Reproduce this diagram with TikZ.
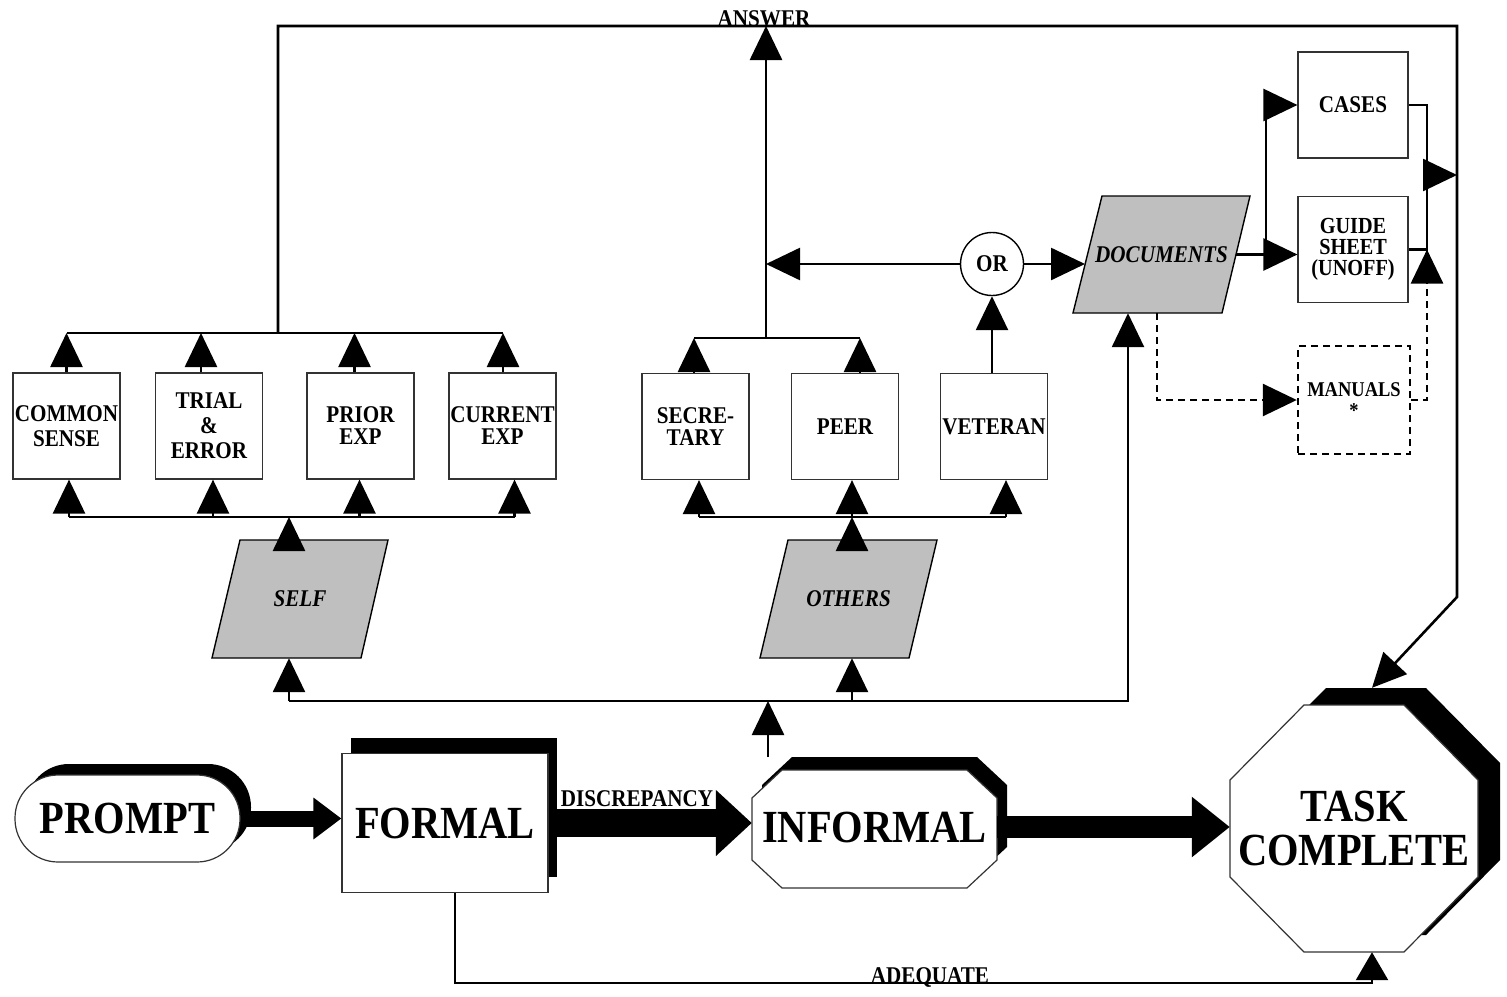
\documentclass[tikz,border=0pt]{standalone}
\usepackage{fontspec}
\setmainfont{Liberation Serif}[FakeStretch=0.88]
\usetikzlibrary{arrows.meta,shadows}
\newcommand\smallbf{\fontsize{24}{22}\selectfont\bfseries}
\newcommand\bigbf{\fontsize{46}{44}\selectfont\bfseries}
\tikzset{
  ln/.style={line width=2.6pt},
  arr/.style={line width=2.6pt, -{Triangle[length=34pt,width=32pt]}},
  dln/.style={line width=2.6pt, dash pattern=on 7pt off 5pt},
  darr/.style={dln, -{Triangle[length=34pt,width=32pt]}},
  box/.style={draw=black!80, line width=1.2pt, fill=white, minimum width=107pt,
    minimum height=106pt, inner sep=0pt, align=center, font=\smallbf},
  txt/.style={inner sep=0pt, align=center},
  lab/.style={font=\smallbf, inner sep=0pt, anchor=base},
  para/.style={draw=black, line width=1.4pt, fill=black!25},
  itlab/.style={txt, font=\smallbf\itshape},
  octo/.style n args={6}{insert path={(#1+#5,#2) -- (#3-#5,#2) -- (#3,#2+#6) -- (#3,#4-#6)
     -- (#3-#5,#4) -- (#1+#5,#4) -- (#1,#4-#6) -- (#1,#2+#6) -- cycle}},
}
\begin{document}
\begin{tikzpicture}[x=1pt,y=-1pt,line join=miter]
\useasboundingbox (0,0) rectangle (1507,996);
\fill[white] (0,0) rectangle (1507,996);

% ---------- shapes ----------
\node[box] (cs) at (66.5,426) {COMMON\\[3pt]SENSE};
\node[box] (te) at (209,426) {TRIAL\\[3pt]\&\\[3pt]ERROR};
\node[box] (pe) at (360.5,426) {PRIOR\\EXP};
\node[box] (ce) at (502.5,426) {CURRENT\\EXP};

\node[box] (sec) at (695.5,426.5) {SECRE-\\TARY};
\node[box] (peer) at (845,426.5) {PEER};
\node[box] (vet) at (994,426.5) {VETERAN};

\node[circle, draw=black, line width=1.4pt, fill=white, minimum size=63pt, inner sep=0pt, font=\smallbf] (or) at (992,264) {OR};

\path[para] (240,540) -- (388,540) -- (361,658) -- (212,658) -- cycle;
\node[itlab, minimum width=176pt, minimum height=118pt] (self) at (300,599) {SELF};
\path[para] (788,540) -- (937,540) -- (909,658) -- (760,658) -- cycle;
\node[itlab, minimum width=177pt, minimum height=118pt] (oth) at (848.5,599) {OTHERS};
\path[para] (1102,196) -- (1250,196) -- (1222,313) -- (1073,313) -- cycle;
\node[itlab, minimum width=177pt, minimum height=117pt] (doc) at (1161.5,254.5) {DOCUMENTS};

\node[box, minimum width=110pt] (cases) at (1353,105) {CASES};
\node[box, minimum width=110pt, font=\fontsize{23}{21}\selectfont\bfseries] (guide) at (1353,249.5) {GUIDE\\SHEET\\(UNOFF)};
\node[box, draw=black, dash pattern=on 7pt off 5pt, line width=2.4pt, minimum width=112pt,
  minimum height=108pt, font=\fontsize{21}{19}\selectfont\bfseries] (man) at (1354,400) {MANUALS\\[2pt]*};

\node[draw=black!80, line width=1.2pt, fill=white, rounded corners=43pt, minimum width=225pt,
  minimum height=87pt, inner sep=0pt, font=\bigbf,
  general shadow={fill=black, shadow xshift=11pt, shadow yshift=11pt}] (prompt) at (127.5,818.5) {PROMPT};
\node[draw=black!80, line width=1.2pt, fill=white, minimum width=206pt, minimum height=139pt,
  inner sep=0pt, font=\bigbf,
  general shadow={fill=black, shadow xshift=9pt, shadow yshift=16pt}] (formal) at (445,823) {FORMAL};

\fill[black, octo={762}{757}{1007}{875}{30}{28}];
\path[draw=black!80, line width=1.2pt, fill=white, octo={752}{770}{997}{888}{30}{28}];
\node[txt, font=\bigbf, minimum width=245pt, minimum height=118pt] (inf) at (874.5,827) {INFORMAL};

\fill[black, octo={1252}{688}{1500}{935}{74}{75}];
\path[draw=black!80, line width=1.2pt, fill=white, octo={1230}{705}{1478}{952}{74}{75}];
\node[txt, font=\bigbf, minimum width=248pt, minimum height=247pt] (task) at (1354,828.5) {TASK\\COMPLETE};

% ---------- helper coordinates ----------
\coordinate (yS1) at (0,333);
\coordinate (yS2) at (0,517);
\coordinate (yO1) at (0,338);
\coordinate (yLow) at (0,701);
\coordinate (yTop) at (0,26);
\coordinate (yAdq) at (0,983);
\coordinate (xR) at (1457,0);
\coordinate (xM) at (1427,0);
\coordinate (xB) at (1266,0);
\coordinate (docL) at (1085,0);
\coordinate (sj) at (278,333);
\coordinate (aj) at (766,338);
\coordinate (rc) at (1457,597);
\coordinate (mA) at (1427,175);
\coordinate (infup) at (768,757);
\coordinate (tasktop) at ([xshift=18pt,yshift=17pt]task.north);
\coordinate (taskB) at ([xshift=18pt]task.south);
\coordinate (fB) at ([xshift=10pt]formal.south);
\coordinate (selfB) at ([xshift=-11pt]self.south);
\coordinate (selfT) at ([xshift=-11pt]self.north);
\coordinate (othB) at ([xshift=3.5pt]oth.south);
\coordinate (othT) at ([xshift=3.5pt]oth.north);
\coordinate (docB) at ([xshift=-33.5pt]doc.south);
\coordinate (docBd) at ([xshift=-4.5pt]doc.south);
\coordinate (docR) at ([xshift=-14pt]doc.east);

% ---------- self group ----------
\foreach \n/\d in {cs/0, te/-8, pe/-6, ce/0.5}
  \draw[arr] ([xshift=\d pt]\n.north) -- ([xshift=\d pt]\n.north |- yS1);
\draw[ln] (cs.north |- yS1) -- ([xshift=0.5pt]ce.north |- yS1);
\foreach \n/\d in {cs/2.5, te/4, pe/-1, ce/12}
  \draw[arr] ([xshift=\d pt]\n.south |- yS2) -- ([xshift=\d pt]\n.south);
\draw[ln] ([xshift=2.5pt]cs.south |- yS2) -- ([xshift=12pt]ce.south |- yS2);
\draw[arr] (selfT) -- (selfT |- yS2);

% ---------- others group ----------
\draw[arr] ([xshift=-1.5pt]sec.north) -- ([xshift=-1.5pt]sec.north |- yO1);
\draw[arr] ([xshift=15pt]peer.north) -- ([xshift=15pt]peer.north |- yO1);
\draw[ln] ([xshift=-1.5pt]sec.north |- yO1) -- ([xshift=15pt]peer.north |- yO1);
\foreach \n/\d in {sec/3.5, peer/7, vet/12}
  \draw[arr] ([xshift=\d pt]\n.south |- yS2) -- ([xshift=\d pt]\n.south);
\draw[ln] ([xshift=3.5pt]sec.south |- yS2) -- ([xshift=12pt]vet.south |- yS2);
\draw[arr] (othT) -- (othT |- yS2);

\draw[arr] (aj) -- (aj |- yTop);
\draw[arr] ([xshift=-2pt]vet.north) -- (or.south);
\draw[arr] (or.west) -- (or.west -| aj);
\draw[arr] (or.east) -- (or.east -| docL);

% ---------- big loop to task ----------
\draw[arr] (sj) -- (sj |- yTop) -- (xR |- yTop) -- (rc) -- (tasktop);

% ---------- lower bar ----------
\draw[arr] (selfB |- yLow) -| (docB);
\draw[arr] (selfB |- yLow) -- (selfB);
\draw[arr] (othB |- yLow) -- (othB);
\draw[arr] (infup) -- (infup |- yLow);

% ---------- documents branch ----------
\draw[arr] (docR) -- (docR -| guide.west);
\draw[arr] (docR -| xB) |- (cases.west);
\draw[ln] (cases.east) -| (xM |- guide.east) -- (guide.east);
\draw[arr] (mA) -- (mA -| xR);
\draw[darr] (docBd) |- (man.west);
\draw[darr] (man.east) -| (xM |- guide.east);

% ---------- bottom row ----------
\draw[line width=16pt, -{Triangle[length=28pt,width=40pt]}] (prompt.east) -- (prompt.east -| formal.west);
\draw[line width=28pt, -{Triangle[length=36pt,width=64pt]}] (formal.east) -- (formal.east -| inf.west);
\draw[line width=22pt, -{Triangle[length=38pt,width=58pt]}] (inf.east) -- (inf.east -| task.west);
\draw[line width=2.6pt, -{Triangle[length=28pt,width=32pt]}] (fB) |- (taskB |- yAdq) -- (taskB);

% ---------- labels ----------
\node[lab] (dlab) at (637,806) {DISCREPANCY};
\node[lab] (alab) at (764,26) {ANSWER};
\node[lab] (qlab) at (930,983) {ADEQUATE};
\end{tikzpicture}
\end{document}
